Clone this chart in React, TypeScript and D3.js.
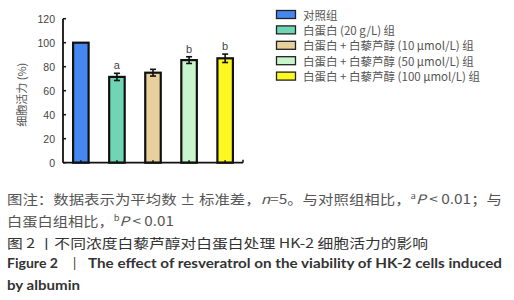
import React from "react";
import * as d3 from "d3";

const groups = ["对照组", "白蛋白 (20 g/L) 组", "白蛋白 + 白藜芦醇 (10 μmol/L) 组", "白蛋白 + 白藜芦醇 (50 μmol/L) 组", "白蛋白 + 白藜芦醇 (100 μmol/L) 组"];
const means = [100, 71.5, 75, 85.5, 87];
const sds = [0, 3, 2.8, 2.8, 3.5];
const marks = ["", "a", "", "b", "b"];
const colors = ["#4687ef", "#6fd6b5", "#e8d09c", "#c9f5cc", "#fdf722"];
const yTicks = [0, 20, 40, 60, 80, 100, 120];

const CJK = "'Noto Sans CJK SC', 'Noto Sans', sans-serif";
const LAT = "Lato, 'Noto Sans CJK SC', sans-serif";

export default function App() {
  const x0 = 63, x1 = 243, yTop = 18.7, yBot = 162.7;
  const x = d3.scaleBand<number>().domain(d3.range(groups.length)).range([x0, x1]).paddingInner(0.57).paddingOuter(0.28);
  const y = d3.scaleLinear().domain([0, 120]).range([yBot, yTop]);
  const bw = x.bandwidth();

  return (
    <svg width={514} height={300} style={{ position: "absolute", left: 0, top: 0, background: "#fff" }}>
      {/* y axis label */}
      <text transform={`translate(21,${(yTop + yBot) / 2 + 4}) rotate(-90)`} textAnchor="middle" dominantBaseline="central"
        fontFamily={CJK} fontSize={11} fill="#555">细胞活力 (%)</text>
      {/* y ticks */}
      {yTicks.map((t) => (
        <g key={t}>
          <line x1={x0} x2={x0 + 3} y1={y(t)} y2={y(t)} stroke="#111" strokeWidth={1.5} />
          <text x={55} y={y(t)} textAnchor="end" dominantBaseline="central" fontFamily="'Liberation Sans', Arial, sans-serif" fontSize={10.5} fill="#444">{t}</text>
        </g>
      ))}
      {/* bars */}
      {means.map((m, i) => {
        const bx = x(i)!;
        const cx = bx + bw / 2;
        return (
          <g key={i}>
            <rect x={bx} y={y(m)} width={bw} height={yBot - y(m)} fill={colors[i]} stroke="#111" strokeWidth={2.2} />
            {sds[i] > 0 && (
              <g stroke="#111" strokeWidth={1.6}>
                <line x1={cx} x2={cx} y1={y(m + sds[i])} y2={y(m - sds[i])} />
                <line x1={cx - 3} x2={cx + 3} y1={y(m + sds[i])} y2={y(m + sds[i])} />
                <line x1={cx - 3} x2={cx + 3} y1={y(m - sds[i])} y2={y(m - sds[i])} />
              </g>
            )}
            {marks[i] && (
              <text x={cx} y={y(m + sds[i]) - 8} textAnchor="middle" dominantBaseline="central"
                fontFamily="'Liberation Sans', Arial, sans-serif" fontSize={11} fill="#444">{marks[i]}</text>
            )}
            <line x1={cx} x2={cx} y1={yBot} y2={yBot - 2.5} stroke="#111" strokeWidth={1.5} />
          </g>
        );
      })}
      {/* axes */}
      <line x1={x0} x2={x0} y1={yTop} y2={yBot} stroke="#111" strokeWidth={1.8} />
      <line x1={x0} x2={x1} y1={yBot} y2={yBot} stroke="#111" strokeWidth={1.8} />
      <line x1={x1} x2={x1} y1={yBot} y2={yBot - 3} stroke="#111" strokeWidth={1.5} />
      {/* legend */}
      {groups.map((g, i) => {
        const ly = 14.5 + i * 15.4;
        return (
          <g key={g}>
            <rect x={276.5} y={ly - 4} width={19} height={8} fill={colors[i]} stroke="#222" strokeWidth={1.3} />
            <text x={303} y={ly} dominantBaseline="central" fontFamily={CJK} fontSize={11.5} fill="#555">{g}</text>
          </g>
        );
      })}
      {/* caption */}
      <text x={7} y={204} fontFamily={CJK} fontSize={13} fill="#555" textLength={495} lengthAdjust="spacingAndGlyphs">
        图注：数据表示为平均数 ± 标准差，<tspan fontStyle="italic">n</tspan>=5。与对照组相比，<tspan fontSize={8} dy={-5}>a</tspan><tspan dy={5} fontStyle="italic">P</tspan> &lt; 0.01；与
      </text>
      <text x={7} y={226} fontFamily={CJK} fontSize={13} fill="#555" textLength={167} lengthAdjust="spacingAndGlyphs">
        白蛋白组相比，<tspan fontSize={8} dy={-5}>b</tspan><tspan dy={5} fontStyle="italic">P</tspan> &lt; 0.01
      </text>
      <text x={7} y={248} fontFamily={CJK} fontSize={13} fill="#333" textLength={421} lengthAdjust="spacingAndGlyphs">
        图 2 丨不同浓度白藜芦醇对白蛋白处理 HK-2 细胞活力的影响
      </text>
      <text x={7} y={268} fontFamily={LAT} fontWeight="bold" fontSize={13} fill="#333" textLength={51} lengthAdjust="spacingAndGlyphs">Figure 2</text>
      <text x={73} y={268} fontFamily={LAT} fontSize={13} fill="#333">|</text>
      <text x={88} y={268} fontFamily={LAT} fontWeight="bold" fontSize={13} fill="#333" textLength={414} lengthAdjust="spacingAndGlyphs">The effect of resveratrol on the viability of HK-2 cells induced</text>
      <text x={7} y={290} fontFamily={LAT} fontWeight="bold" fontSize={13} fill="#333" textLength={73} lengthAdjust="spacingAndGlyphs">by albumin</text>
    </svg>
  );
}
